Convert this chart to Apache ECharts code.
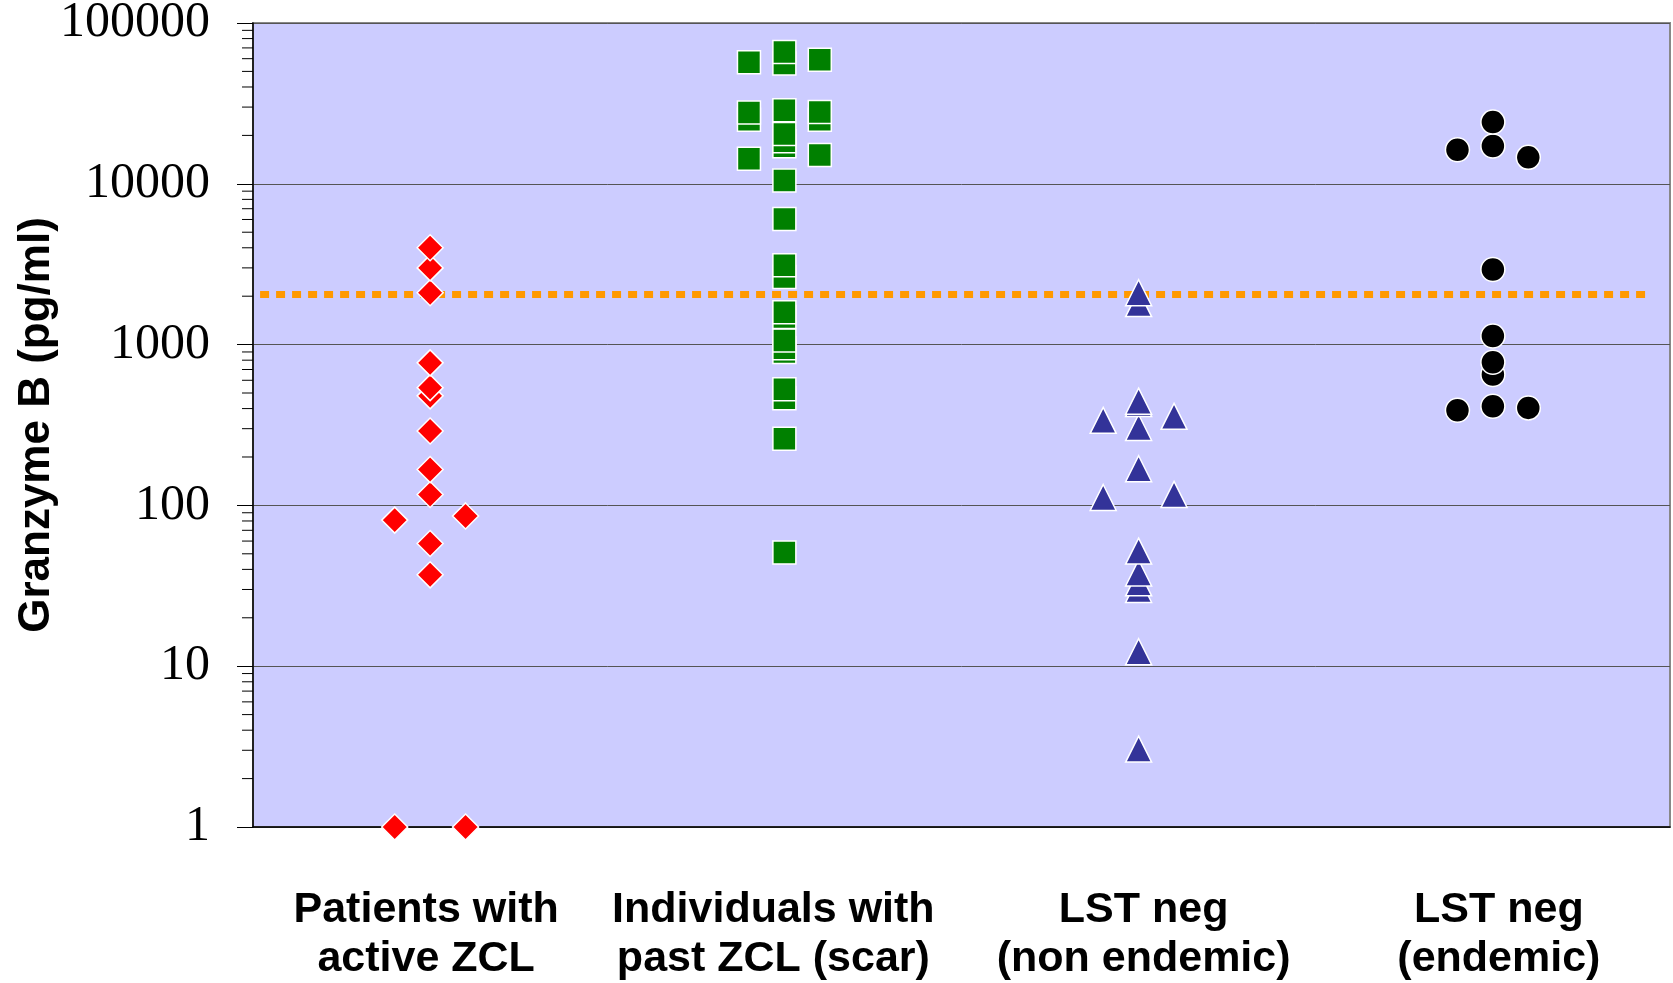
<!DOCTYPE html>
<html>
<head>
<meta charset="utf-8">
<script src="https://cdn.jsdelivr.net/npm/echarts@6/dist/echarts.min.js"></script>
<style>
html,body{margin:0;padding:0;background:#fff;}
#chart{width:1673px;height:983px;}
</style>
</head>
<body>
<div id="chart"></div>
<script>
// ---- Data ----
var categories = ['Patients with\nactive ZCL', 'Individuals with\npast ZCL (scar)', 'LST neg\n(non endemic)', 'LST neg\n(endemic)'];

// values per group: centre column, left column, right column (drawing order)
var activeCenter = [37, 58, 117, 167, 290, 480, 540, 770, 2100, 3000, 4000];
var activeLeft = [1, 81];
var activeRight = [1, 86];

var scarCenter = [51, 260, 463, 528, 900, 950, 1060, 1485, 1590, 2630, 3110, 6030, 10500, 17100, 18400, 20400, 28700, 56000, 66000];
var scarLeft = [14300, 25000, 27800, 57000];
var scarRight = [15100, 25000, 28000, 59000];

var nonEndemicCenter = [3.05, 12.3, 30, 33, 38, 52, 169, 305, 430, 445, 1800, 2100];
var nonEndemicLeft = [112, 338];
var nonEndemicRight = [117, 358];

var endemicCenter = [414, 652, 1130, 776, 2930, 17200, 24200];
var endemicLeft = [391, 16300];
var endemicRight = [404, 14600];

var cutoffValue = 2050;
var cutoffRange = [0.02, 3.93];

var yTicks = [1, 10, 100, 1000, 10000, 100000];
var minorTickValues = [];
for (var d = 0; d < yTicks.length - 1; d++) {
  for (var m = 2; m <= 9; m++) minorTickValues.push(m * yTicks[d]);
}

// layout only: horizontal nudge of each category label (px)
var labelShift = [-4, -11, 5, 6];
var columnOffset = 0.1;

function groupData(idx, center, left, right) {
  var out = [];
  var base = idx + 0.5;
  left.forEach(function (v) { out.push([base - columnOffset, v]); });
  right.forEach(function (v) { out.push([base + columnOffset, v]); });
  center.forEach(function (v) { out.push([base, v]); });
  return out;
}

var labelFont = {
  color: '#000',
  fontFamily: 'Liberation Sans, Arial, sans-serif',
  fontWeight: 'bold',
  fontSize: 43,
  lineHeight: 49
};
var rich = {};
labelShift.forEach(function (s, i) {
  rich['c' + i] = Object.assign({}, labelFont, {
    padding: s < 0 ? [0, -2 * s, 0, 0] : [0, 0, 0, 2 * s]
  });
});

var chart = echarts.init(document.getElementById('chart'));

var scatterBase = {
  type: 'scatter',
  xAxisIndex: 0,
  yAxisIndex: 0,
  z: 5,
  silent: true
};

var option = {
  animation: false,
  backgroundColor: '#ffffff',
  grid: {
    left: 253, right: 3, top: 23, bottom: 156,
    containLabel: false,
    outerBoundsMode: 'none',
    show: true,
    backgroundColor: '#CCCCFF',
    borderColor: '#888888',
    borderWidth: 2
  },
  xAxis: [
    {
      type: 'value', min: 0, max: 4,
      axisLine: { show: true, onZero: false, lineStyle: { color: '#000', width: 1.5 } },
      axisTick: { show: false },
      axisLabel: { show: false },
      splitLine: { show: false }
    },
    {
      type: 'category', data: categories, position: 'bottom',
      boundaryGap: true,
      axisLine: { show: false },
      axisTick: { show: false },
      splitLine: { show: false },
      axisLabel: Object.assign({}, labelFont, {
        interval: 0,
        margin: 59,
        rich: rich,
        formatter: function (value, index) {
          return value.split('\n').map(function (line) {
            return '{c' + index + '|' + line + '}';
          }).join('\n');
        }
      })
    }
  ],
  yAxis: {
    type: 'log', logBase: 10, min: 1, max: 100000,
    name: 'Granzyme B (pg/ml)',
    nameLocation: 'middle',
    nameGap: 194,
    nameMoveOverlap: false,
    nameTextStyle: {
      color: '#000',
      fontFamily: 'Liberation Sans, Arial, sans-serif',
      fontWeight: 'bold',
      fontSize: 44
    },
    axisLine: { show: true, lineStyle: { color: '#000', width: 1.5 } },
    axisTick: { show: true, inside: false, length: 16, lineStyle: { color: '#000', width: 1 } },
    axisLabel: {
      margin: 43,
      color: '#000',
      fontFamily: 'Liberation Serif, Times New Roman, serif',
      fontSize: 50,
      formatter: function (v) { return String(Math.round(v)); }
    },
    splitLine: { show: true, lineStyle: { color: '#555555', width: 1 } }
  },
  series: [
    {
      type: 'custom',
      xAxisIndex: 0, yAxisIndex: 0,
      silent: true,
      clip: false,
      z: 3,
      data: minorTickValues.map(function (v) { return [0, v]; }),
      renderItem: function (params, api) {
        var p = api.coord([api.value(0), api.value(1)]);
        return {
          type: 'line',
          shape: { x1: p[0] - 11, y1: p[1], x2: p[0], y2: p[1] },
          style: { stroke: '#000', lineWidth: 1 }
        };
      }
    },
    {
      type: 'line',
      xAxisIndex: 0, yAxisIndex: 0,
      silent: true,
      z: 4,
      symbol: 'none',
      data: [[cutoffRange[0], cutoffValue], [cutoffRange[1], cutoffValue]],
      lineStyle: { color: '#FF9900', width: 7, type: [9, 7], cap: 'butt' }
    },
    Object.assign({}, scatterBase, {
      name: 'active',
      symbol: 'diamond', symbolSize: 26,
      itemStyle: { color: '#FF0000', borderColor: '#ffffff', borderWidth: 1.5, opacity: 1 },
      data: groupData(0, activeCenter, activeLeft, activeRight)
    }),
    Object.assign({}, scatterBase, {
      name: 'scar',
      symbol: 'rect', symbolSize: 23,
      itemStyle: { color: '#008000', borderColor: '#ffffff', borderWidth: 1.5, opacity: 1 },
      data: groupData(1, scarCenter, scarLeft, scarRight)
    }),
    Object.assign({}, scatterBase, {
      name: 'nonendemic',
      symbol: 'triangle', symbolSize: 26,
      itemStyle: { color: '#333399', borderColor: '#ffffff', borderWidth: 1.5, opacity: 1 },
      data: groupData(2, nonEndemicCenter, nonEndemicLeft, nonEndemicRight)
    }),
    Object.assign({}, scatterBase, {
      name: 'endemic',
      symbol: 'circle', symbolSize: 24,
      itemStyle: { color: '#000000', borderColor: '#ffffff', borderWidth: 1.5, opacity: 1 },
      data: groupData(3, endemicCenter, endemicLeft, endemicRight)
    })
  ]
};

chart.setOption(option);
</script>
</body>
</html>
